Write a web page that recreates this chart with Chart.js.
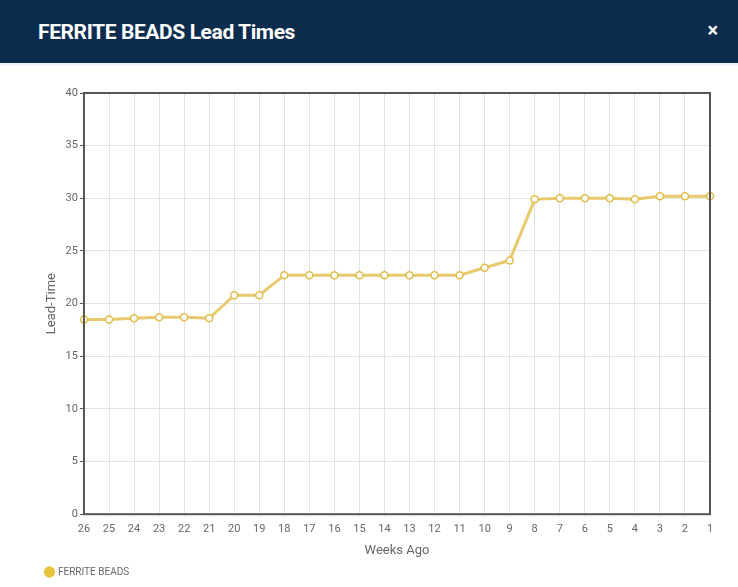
<!DOCTYPE html>
<html>
<head>
<meta charset="utf-8">
<script src="https://cdn.jsdelivr.net/npm/chart.js@4"></script>
<style>
  body { margin: 0; width: 738px; height: 587px; background: #fff; font-family: Roboto, sans-serif; overflow: hidden; }
  .header { height: 63px; background: #0c2c4e; position: relative; border-bottom: 3px solid #eef4fa; }
  .header h1 { margin: 0; position: absolute; left: 38px; top: 20px; color: #fff; font-family: Roboto, sans-serif; font-size: 21px; font-weight: bold; letter-spacing: -0.4px; }
  .header .close { position: absolute; right: 20px; top: 18px; color: #fff; font-size: 20px; font-weight: bold; }
  .wrap { position: relative; width: 738px; height: 521px; }
</style>
</head>
<body>
<div class="header"><h1>FERRITE BEADS Lead Times</h1><span class="close">&#215;</span></div>
<div class="wrap"><canvas id="myChart"></canvas></div>
<script>
const ctx = document.getElementById('myChart');

var weeks = ["26", "25", "24", "23", "22", "21", "20", "19", "18", "17", "16", "15", "14",
             "13", "12", "11", "10", "9", "8", "7", "6", "5", "4", "3", "2", "1"];
var leadTimes = [18.5, 18.5, 18.6, 18.7, 18.7, 18.6, 20.8, 20.8, 22.7, 22.7, 22.7, 22.7, 22.7,
                 22.7, 22.7, 22.7, 23.4, 24.1, 29.9, 30, 30, 30, 29.9, 30.2, 30.2, 30.2];
var yTicks = [0, 5, 10, 15, 20, 25, 30, 35, 40];

// frame around the plot area (top and right too)
const frame = {
    id: 'frame',
    afterDraw(chart) {
        const a = chart.chartArea;
        const c = chart.ctx;
        c.save();
        c.strokeStyle = '#555';
        c.lineWidth = 2;
        c.strokeRect(a.left, a.top, a.right - a.left, a.bottom - a.top);
        c.restore();
    }
};

const chart = new Chart(ctx, {
    type: 'line',
    data: {
        labels: weeks,
        datasets: [{
            label: 'FERRITE BEADS',
            data: leadTimes,
            borderColor: '#e8c96e',
            borderWidth: 3,
            backgroundColor: '#e6c43c',
            pointBackgroundColor: '#fff',
            pointBorderColor: '#e0bd48',
            pointBorderWidth: 1.5,
            pointRadius: 3.5,
            tension: 0,
            fill: false
        }]
    },
    options: {
        responsive: true,
        maintainAspectRatio: false,
        animation: false,
        layout: { padding: { left: 40, right: 28, top: 27, bottom: 0 } },
        scales: {
            x: {
                offset: false,
                grid: { color: '#e2e2e2', drawTicks: false },
                border: { display: false },
                ticks: { color: '#666', font: { family: 'Roboto', size: 11 }, maxRotation: 0, autoSkip: false, padding: 8 },
                title: { display: true, text: 'Weeks Ago', color: '#666', font: { family: 'Roboto', size: 13 }, padding: { top: 0, bottom: 2 } }
            },
            y: {
                min: 0,
                max: 40,
                afterBuildTicks: function (axis) {
                    axis.ticks = yTicks.map(function (v) { return { value: v }; });
                },
                grid: { color: '#e2e2e2', drawTicks: true, tickLength: 4, tickColor: '#555' },
                border: { display: false },
                ticks: { color: '#666', font: { family: 'Roboto', size: 11 }, padding: 2 },
                title: { display: true, text: 'Lead-Time', color: '#666', font: { family: 'Roboto', size: 13 }, padding: { bottom: 4 } }
            }
        },
        plugins: {
            legend: {
                position: 'bottom',
                align: 'start',
                labels: {
                    usePointStyle: true,
                    pointStyle: 'circle',
                    boxWidth: 7,
                    boxHeight: 7,
                    color: '#666',
                    font: { family: 'Roboto', size: 10 },
                    padding: 6,
                    generateLabels: function (chart) {
                        var items = Chart.defaults.plugins.legend.labels.generateLabels(chart);
                        items.forEach(function (it) {
                            it.fillStyle = '#e6c43c';
                            it.strokeStyle = '#e6c43c';
                        });
                        return items;
                    }
                }
            },
            tooltip: { enabled: false }
        }
    },
    plugins: [frame]
});
</script>
</body>
</html>
